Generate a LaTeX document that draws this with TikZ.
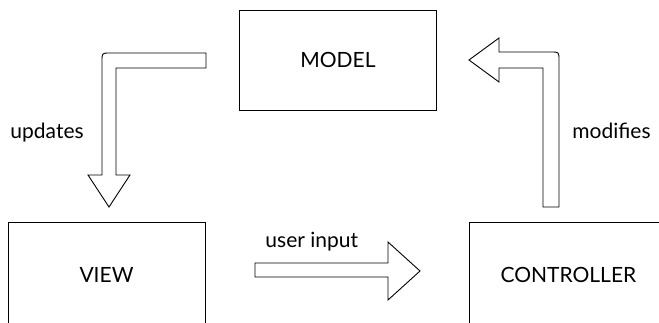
\documentclass[tikz,border=0pt]{standalone}
\usepackage{fontspec}
\setmainfont{Lato}
\usetikzlibrary{positioning}

\begin{document}
\begin{tikzpicture}[x=1pt,y=-1pt,line width=0.9pt,
 box/.style={draw,minimum width=197pt,minimum height=100pt,inner sep=0pt,font=\fontsize{21}{25}\selectfont},
 lbl/.style={inner sep=0pt,font=\fontsize{21}{25}\selectfont},
 blockarrow/.style={draw,fill=white,line join=miter}]
\useasboundingbox (0,0) rectangle (659,322);
\node[box] (model) at (338,60) {MODEL};
\node[box,minimum height=104pt] (view) at (106.5,274.5) {VIEW};
\node[box,minimum height=104pt,right=264pt of view] (ctrl) {CONTROLLER};
% model -> view
\path[blockarrow] (206,53) -- (110,53) .. controls (102,53) .. (102,61) -- (102,175) -- (88,175)
 -- (109,207) -- (130,175) -- (116,175) -- (116,68) -- (206,68) -- cycle;
% view -> controller
\path[blockarrow] (255,263) -- (388,263) -- (388,242) -- (420,271) -- (388,300) -- (388,277) -- (255,277) -- cycle;
% controller -> model
\path[blockarrow] (543,207) -- (543,68) -- (499,68) -- (499,82) -- (469,60) -- (499,38) -- (499,52)
 -- (551,52) .. controls (559,52) .. (559,60) -- (559,207) -- cycle;
\node[lbl,anchor=base west] (upd) at (10,138) {updates};
\node[lbl,anchor=base west] (mod) at (572,138) {modifies};
\node[lbl,anchor=base west] (inp) at (265,247) {user input};
\end{tikzpicture}
\end{document}
